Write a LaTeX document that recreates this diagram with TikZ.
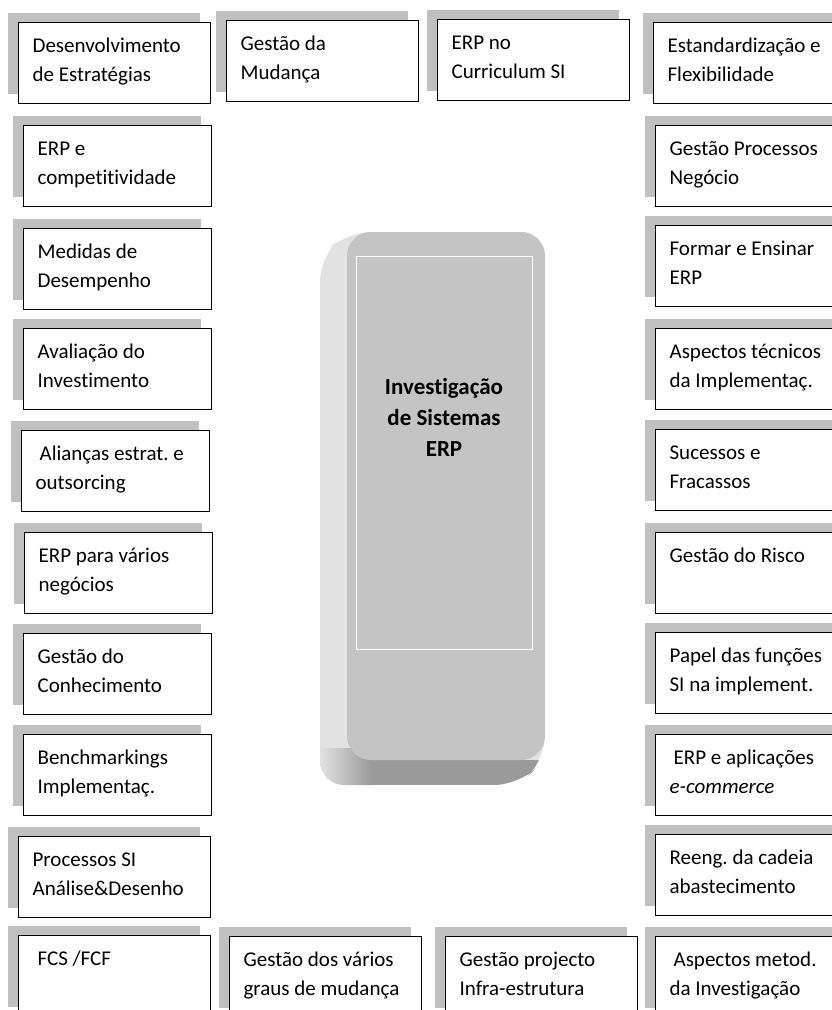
\documentclass[tikz,border=0pt]{standalone}
\usepackage{fontspec}
\setmainfont{Carlito}[Ligatures=NoCommon]
\usepackage{xcolor}
\usetikzlibrary{shadows}
\definecolor{shadowgray}{RGB}{192,192,192}
\definecolor{facegray}{RGB}{196,196,196}
\definecolor{bevlight}{RGB}{226,226,226}
\definecolor{bevdark}{RGB}{154,154,154}
\frenchspacing

\begin{document}
\begin{tikzpicture}[x=1pt, y=-1pt,
  topic/.style={draw, line width=1.2pt, fill=white, anchor=north west,
                align=flush left, text width=160pt, inner xsep=14pt, inner ysep=0pt,
                text height=30pt, text depth=51pt,
                font=\fontsize{21}{29}\selectfont,
                general shadow={fill=shadowgray, shadow xshift=-11pt,
                                shadow yshift=10pt}},
  wide/.style={text width=164pt},
  core/.style={font=\fontsize{23}{31}\selectfont\bfseries, align=center}]
\useasboundingbox (0,0) rectangle (832,1010);
\clip (0,0) rectangle (832,1010);
\fill[white] (0,0) rectangle (832,1010);

% central block
\begin{scope}
  \clip[rounded corners=24pt] (320,257) -- (347,232) -- (545,232)
    -- (545,760) -- (518,785) -- (320,785) -- cycle;
  \fill[bevlight] (320,232) rectangle (545,785);
  \shade[left color=bevlight, right color=bevdark] (320,748) rectangle (372,785);
  \fill[bevdark] (372,760) rectangle (545,785);
\end{scope}
\fill[facegray, rounded corners=24pt] (347,232) rectangle (545,760);
\draw[white, line width=1pt] (356,256) rectangle (532,649);
\node[core] (invest) at (444,417) {Investigação\\de Sistemas\\ERP};

% top row
\node[topic, wide] (desenv) at (18,22) {Desenvolvimento\\de Estratégias};
\node[topic, wide] (gmud) at (226,20) {Gestão da\\Mudança};
\node[topic, wide] (erpcurr) at (437,19) {ERP no\\Curriculum SI};
\node[topic, wide] (estand) at (653,22) {Estandardização e\\Flexibilidade};

% left column
\node[topic] (erpcomp) at (23,125) {ERP e\\competitividade};
\node[topic] (medidas) at (23,228) {Medidas de\\Desempenho};
\node[topic] (avaliac) at (23,328) {Avaliação do\\Investimento};
\node[topic] (aliancas) at (21,430) {\hspace*{4pt}Alianças estrat. e\\outsorcing};
\node[topic] (erpvarios) at (24,532) {ERP para vários\\negócios};
\node[topic] (gconhec) at (23,633) {Gestão do\\Conhecimento};
\node[topic] (bench) at (23,734) {Benchmarkings\\Implementaç.};
\node[topic, wide] (procsi) at (18,836) {Processos SI\\Análise\&Desenho};

% right column
\node[topic, wide] (gproc) at (655,125) {Gestão Processos\\Negócio};
\node[topic, wide] (formar) at (655,225) {Formar e Ensinar\\ERP};
\node[topic, wide] (asptec) at (655,328) {Aspectos técnicos\\da Implementaç.};
\node[topic, wide] (sucessos) at (655,429) {Sucessos e\\Fracassos};
\node[topic, wide] (grisco) at (655,532) {Gestão do Risco};
\node[topic, wide] (papel) at (655,632) {Papel das funções\\SI na implement.};
\node[topic, wide] (erpecom) at (655,734)
  {\hspace*{4pt}ERP e aplicações\\\textit{e-commerce}};
\node[topic, wide] (reeng) at (655,834) {Reeng. da cadeia\\abastecimento};

% bottom row
\node[topic, wide] (fcs) at (18,935) {\hspace*{5pt}FCS /FCF};
\node[topic, wide] (gvarios) at (229,936) {Gestão dos vários\\graus de mudança};
\node[topic, wide] (gproj) at (445,936) {Gestão projecto\\Infra-estrutura};
\node[topic, wide] (aspmet) at (655,936) {\hspace*{4pt}Aspectos metod.\\da Investigação};
\end{tikzpicture}
\end{document}
